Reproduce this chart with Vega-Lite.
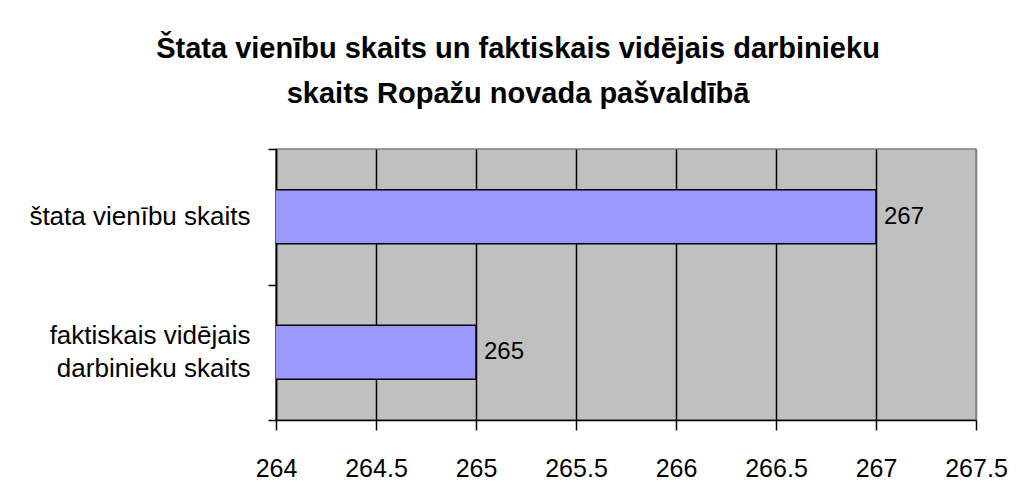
{
  "$schema": "https://vega.github.io/schema/vega-lite/v6.json",
  "autosize": {"type": "none"},
  "width": 700,
  "height": 271,
  "padding": {"left": 276, "top": 149, "right": 40, "bottom": 72},
  "background": "white",
  "title": {
    "text": ["Štata vienību skaits un faktiskais vidējais darbinieku", "skaits Ropažu novada pašvaldībā"],
    "font": "Liberation Sans",
    "fontSize": 29,
    "fontWeight": "bold",
    "color": "black",
    "lineHeight": 45,
    "anchor": "middle",
    "frame": "group",
    "dx": -108,
    "offset": 27
  },
  "data": {
    "values": [
      {"kategorija": "štata vienību skaits", "vertiba": 267},
      {"kategorija": "faktiskais vidējais darbinieku skaits", "vertiba": 265}
    ]
  },
  "config": {
    "view": {"fill": "#C0C0C0", "stroke": "#808080", "strokeWidth": 1.5},
    "axis": {
      "labelFont": "Liberation Sans",
      "labelColor": "black",
      "domainColor": "black",
      "domainWidth": 1.5,
      "tickColor": "black",
      "tickWidth": 1.5
    }
  },
  "encoding": {
    "y": {
      "field": "kategorija",
      "type": "nominal",
      "sort": null,
      "scale": {"paddingInner": 0, "paddingOuter": 0},
      "axis": {
        "title": null,
        "tickBand": "extent",
        "tickSize": 8,
        "labelFontSize": 26,
        "labelPadding": 18,
        "labelLimit": 400,
        "labelLineHeight": 33,
        "labelBaseline": {"condition": {"test": "datum.value == 'faktiskais vidējais darbinieku skaits'", "value": "line-bottom"}, "value": "middle"},
        "labelExpr": "datum.value == 'faktiskais vidējais darbinieku skaits' ? ['faktiskais vidējais', 'darbinieku skaits'] : datum.label",
        "grid": false
      }
    },
    "x": {
      "field": "vertiba",
      "type": "quantitative",
      "scale": {"domain": [264, 267.5], "zero": false, "nice": false},
      "axis": {
        "title": null,
        "values": [264, 264.5, 265, 265.5, 266, 266.5, 267, 267.5],
        "labelExpr": "'' + datum.value",
        "labelFontSize": 25,
        "tickSize": 10,
        "labelPadding": 26,
        "labelFlush": false,
        "labelOverlap": false,
        "grid": true,
        "gridColor": {"condition": {"test": "datum.value >= 267.5", "value": "#808080"}, "value": "black"},
        "gridOpacity": 1,
        "gridWidth": 1.5
      }
    }
  },
  "layer": [
    {
      "mark": {"type": "bar", "fill": "#9999FF", "stroke": "black", "strokeWidth": 1.5, "height": {"band": 0.4}, "clip": true},
      "encoding": {}
    },
    {
      "mark": {"type": "text", "align": "left", "baseline": "middle", "dx": 8, "font": "Liberation Sans", "fontSize": 24, "color": "black"},
      "encoding": {"text": {"field": "vertiba", "type": "quantitative"}}
    }
  ]
}
